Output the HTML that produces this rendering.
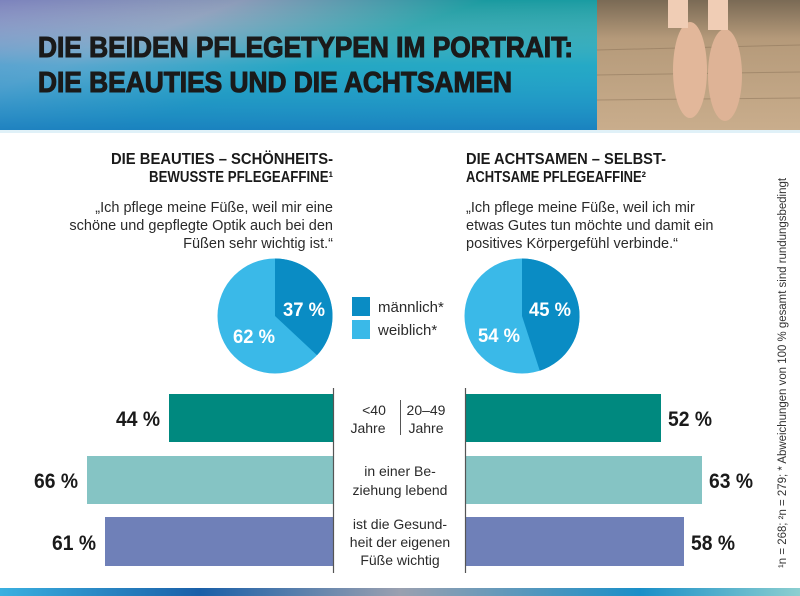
<!DOCTYPE html>
<html><head><meta charset="utf-8"><style>
html,body{margin:0;padding:0;background:#fff;width:800px;height:596px;overflow:hidden}
svg{display:block}
text{font-family:"Liberation Sans Narrow","Liberation Sans",sans-serif}
</style></head><body>
<svg width="800" height="596" viewBox="0 0 800 596" xmlns="http://www.w3.org/2000/svg">
<defs>
<linearGradient id="hg" x1="0" y1="0" x2="1" y2="0.6">
<stop offset="0" stop-color="#7c83bd"/>
<stop offset="0.3" stop-color="#8a9ab8"/>
<stop offset="0.6" stop-color="#1a9aa0"/>
<stop offset="1" stop-color="#1a9fa6"/>
</linearGradient>
<linearGradient id="hg2" x1="0" y1="0" x2="0" y2="1">
<stop offset="0" stop-color="#fff" stop-opacity="0"/>
<stop offset="0.5" stop-color="#30b4e6" stop-opacity="0.5"/>
<stop offset="1" stop-color="#1a7fc2" stop-opacity="0.9"/>
</linearGradient>
<linearGradient id="ph" x1="0" y1="0" x2="0" y2="1">
<stop offset="0" stop-color="#7a6a55"/>
<stop offset="0.3" stop-color="#b59a7a"/>
<stop offset="1" stop-color="#c9ad8c"/>
</linearGradient>
<linearGradient id="bg" x1="0" y1="0" x2="1" y2="0">
<stop offset="0" stop-color="#3ab0e0"/>
<stop offset="0.25" stop-color="#1a5fa8"/>
<stop offset="0.5" stop-color="#9aa0b0"/>
<stop offset="0.8" stop-color="#1a8fc8"/>
<stop offset="1" stop-color="#8ccfd0"/>
</linearGradient>
</defs>
<rect x="0" y="0" width="597" height="130" fill="url(#hg)"/>
<rect x="0" y="0" width="597" height="130" fill="url(#hg2)"/>
<rect x="597" y="0" width="203" height="130" fill="url(#ph)"/>
<g stroke="#8a7258" stroke-width="1" opacity="0.5">
<line x1="597" y1="50" x2="800" y2="45"/><line x1="597" y1="75" x2="800" y2="72"/><line x1="597" y1="100" x2="800" y2="98"/>
</g>
<ellipse cx="690" cy="70" rx="17" ry="48" fill="#e2b79a"/>
<ellipse cx="725" cy="75" rx="17" ry="46" fill="#deb396"/>
<rect x="668" y="0" width="20" height="28" fill="#f0cdb5"/>
<rect x="708" y="0" width="20" height="30" fill="#f0cdb5"/>
<rect x="0" y="130" width="800" height="3" fill="#e0f1f8"/>
<g fill="#1a1a1a" stroke="#1a1a1a" stroke-width="1.1">
<text x="38" y="57" font-size="29" font-weight="bold" textLength="535" lengthAdjust="spacingAndGlyphs">DIE BEIDEN PFLEGETYPEN IM PORTRAIT:</text>
<text x="38" y="92" font-size="29" font-weight="bold" textLength="474" lengthAdjust="spacingAndGlyphs">DIE BEAUTIES UND DIE ACHTSAMEN</text>
</g>

<g font-size="15.5" font-weight="bold" fill="#1a1a1a">
<text x="333" y="164" text-anchor="end" textLength="222" lengthAdjust="spacingAndGlyphs">DIE BEAUTIES – SCHÖNHEITS-</text>
<text x="333" y="182" text-anchor="end" textLength="184" lengthAdjust="spacingAndGlyphs">BEWUSSTE PFLEGEAFFINE¹</text>
<text x="466" y="164" textLength="200" lengthAdjust="spacingAndGlyphs">DIE ACHTSAMEN – SELBST-</text>
<text x="466" y="182" textLength="180" lengthAdjust="spacingAndGlyphs">ACHTSAME PFLEGEAFFINE²</text>
</g>
<g font-size="14.5" fill="#2a2a2a">
<text x="333" y="212" text-anchor="end">„Ich pflege meine Füße, weil mir eine</text>
<text x="333" y="230" text-anchor="end">schöne und gepflegte Optik auch bei den</text>
<text x="333" y="248" text-anchor="end">Füßen sehr wichtig ist.“</text>
<text x="466" y="212">„Ich pflege meine Füße, weil ich mir</text>
<text x="466" y="230">etwas Gutes tun möchte und damit ein</text>
<text x="466" y="248">positives Körpergefühl verbinde.“</text>
</g>

<circle cx="275" cy="316" r="57.5" fill="#3ab9e8"/>
<path d="M275 316 L275 258.5 A57.5 57.5 0 0 1 317 355.3 Z" fill="#0a8cc4"/>
<circle cx="522" cy="316" r="57.5" fill="#3ab9e8"/>
<path d="M522 316 L522 258.5 A57.5 57.5 0 0 1 539.8 370.7 Z" fill="#0a8cc4"/>
<g font-size="19" font-weight="bold" fill="#fff">
<text x="283" y="316" textLength="42" lengthAdjust="spacingAndGlyphs">37 %</text>
<text x="233" y="343" textLength="42" lengthAdjust="spacingAndGlyphs">62 %</text>
<text x="529" y="316" textLength="42" lengthAdjust="spacingAndGlyphs">45 %</text>
<text x="478" y="342" textLength="42" lengthAdjust="spacingAndGlyphs">54 %</text>
</g>
<rect x="352" y="297" width="18" height="19" fill="#0a8cc4"/>
<rect x="352" y="320" width="18" height="19" fill="#3ab9e8"/>
<g font-size="15" fill="#2a2a2a">
<text x="378" y="312">männlich*</text>
<text x="378" y="335">weiblich*</text>
</g>

<rect x="169" y="394" width="164" height="48" fill="#00897f"/>
<rect x="87" y="456" width="246" height="48" fill="#85c4c4"/>
<rect x="105" y="517" width="228" height="49" fill="#6f80b8"/>
<rect x="466" y="394" width="195" height="48" fill="#00897f"/>
<rect x="466" y="456" width="236" height="48" fill="#85c4c4"/>
<rect x="466" y="517" width="218" height="49" fill="#6f80b8"/>
<line x1="333.5" y1="388" x2="333.5" y2="573" stroke="#555" stroke-width="1.2"/>
<line x1="465.5" y1="388" x2="465.5" y2="573" stroke="#555" stroke-width="1.2"/>
<line x1="400.5" y1="400" x2="400.5" y2="435" stroke="#555" stroke-width="1"/>
<g font-size="21" font-weight="bold" fill="#1a1a1a">
<text x="160" y="426" text-anchor="end" textLength="44" lengthAdjust="spacingAndGlyphs">44 %</text>
<text x="78" y="488" text-anchor="end" textLength="44" lengthAdjust="spacingAndGlyphs">66 %</text>
<text x="96" y="550" text-anchor="end" textLength="44" lengthAdjust="spacingAndGlyphs">61 %</text>
<text x="668" y="426" textLength="44" lengthAdjust="spacingAndGlyphs">52 %</text>
<text x="709" y="488" textLength="44" lengthAdjust="spacingAndGlyphs">63 %</text>
<text x="691" y="550" textLength="44" lengthAdjust="spacingAndGlyphs">58 %</text>
</g>
<g font-size="14" fill="#2a2a2a" text-anchor="middle">
<text x="374" y="415">&lt;40</text>
<text x="368" y="433">Jahre</text>
<text x="426" y="415">20–49</text>
<text x="426" y="433">Jahre</text>
<text x="400" y="476">in einer Be-</text>
<text x="400" y="495">ziehung lebend</text>
<text x="400" y="529">ist die Gesund-</text>
<text x="400" y="547">heit der eigenen</text>
<text x="400" y="565">Füße wichtig</text>
</g>
<text transform="translate(786,568) rotate(-90)" font-size="11.5" fill="#333" font-family="'DejaVu Sans',sans-serif" textLength="390" lengthAdjust="spacingAndGlyphs">¹n = 268; ²n = 279; * Abweichungen von 100 % gesamt sind rundungsbedingt</text>
<rect x="0" y="588" width="800" height="8" fill="url(#bg)"/>
</svg>
</body></html>
